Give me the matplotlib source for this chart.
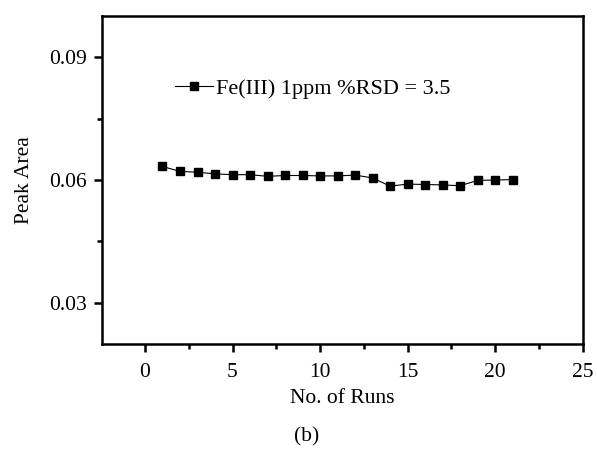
import matplotlib.pyplot as plt
import numpy as np

# Repeatability data: Fe(III) 1 ppm
runs = list(range(1, 22))
peak_area = [0.0633, 0.0621, 0.0619, 0.0615, 0.0613, 0.0613, 0.0609, 0.0611,
             0.0611, 0.0610, 0.0610, 0.0612, 0.0605, 0.0585, 0.0590, 0.0589,
             0.0588, 0.0586, 0.0599, 0.0600, 0.0601]
series_label = 'Fe(III) 1ppm %RSD = 3.5'

plt.rcParams['font.family'] = ['Liberation Serif', 'DejaVu Serif']
plt.rcParams['font.size'] = 15

fig = plt.figure(figsize=(5.97, 4.5), dpi=100)
ax = fig.add_axes([0.171, 0.236, 0.805, 0.728])

ax.plot(runs, peak_area, color='black', linewidth=0.8,
        marker='s', markersize=6, label=series_label)

ax.set_xlim(-2.45, 25)
ax.set_ylim(0.02, 0.1)
ax.set_xticks([0, 5, 10, 15, 20, 25])
ax.set_xticks(np.arange(2.5, 25, 5), minor=True)
ax.set_yticks([0.03, 0.06, 0.09])
ax.set_yticks([0.045, 0.075], minor=True)
ax.set_yticklabels(['0.03', '0.06', '0.09'])

for s in ax.spines.values():
    s.set_linewidth(1.8)
ax.tick_params(which='major', direction='out', length=6, width=1.8, labelsize=15.5)
ax.tick_params(axis='x', which='major', pad=8)
ax.tick_params(axis='y', which='major', pad=5)
ax.tick_params(which='minor', direction='out', length=3.5, width=1.8)

ax.set_xlabel('No. of Runs', fontsize=15.5, labelpad=5)
ax.set_ylabel('Peak Area', fontsize=15.5, labelpad=11)

leg = ax.legend(loc='center left', bbox_to_anchor=(0.152, 0.78), frameon=False,
                borderaxespad=0, borderpad=0,
                handlelength=1.7, handletextpad=0.15, fontsize=16)

fig.text(0.513, 0.018, '(b)', ha='center', fontsize=15.5)

fig.savefig('out.png', dpi=100)
